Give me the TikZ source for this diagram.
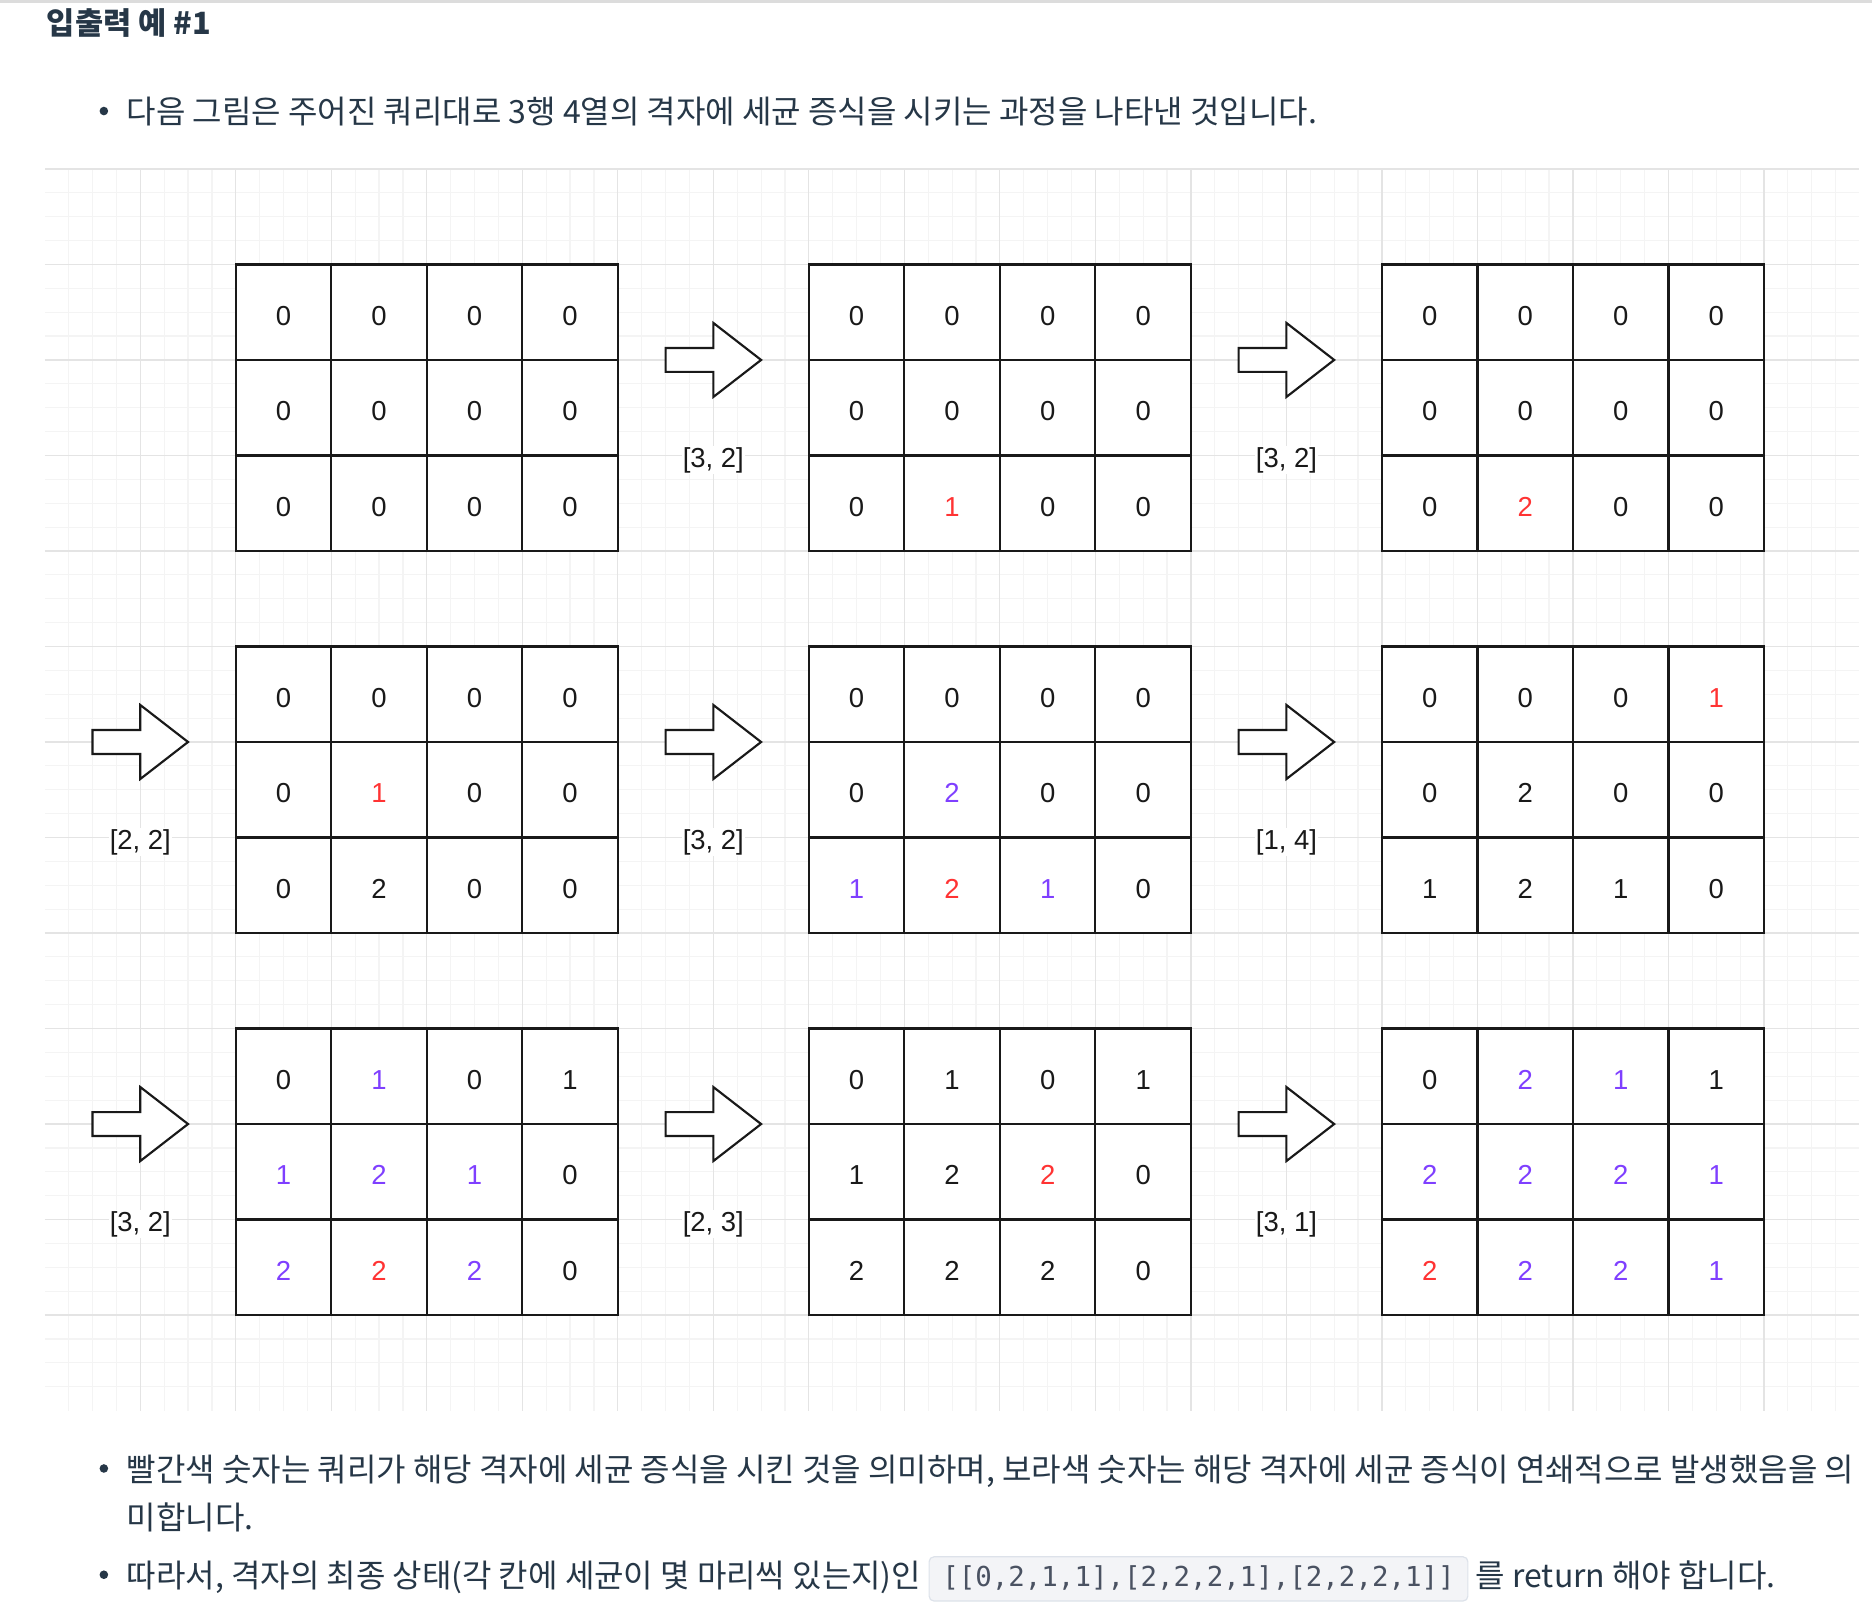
\documentclass[tikz,border=0pt]{standalone}
\usepackage{fontspec}
\setmainfont{Liberation Sans}
\newfontfamily\krfont{Noto Sans CJK KR}
\newfontfamily\codefont{DejaVu Sans Mono}
\usetikzlibrary{positioning}

\definecolor{ink}{HTML}{263747}
\definecolor{qred}{HTML}{FF3333}
\definecolor{qpurple}{HTML}{7F3FFF}
\definecolor{topline}{HTML}{DCDCDC}
\definecolor{gridmajor}{HTML}{E4E4E4}
\definecolor{gridminor}{HTML}{F4F4F4}
\definecolor{codebg}{HTML}{F3F4F7}
\definecolor{codeline}{HTML}{DDE2EA}
\definecolor{codeink}{HTML}{4A5262}
\colorlet{n}{black!90}
\colorlet{r}{qred}
\colorlet{p}{qpurple}

\tikzset{
  minorline/.style={draw=gridminor, line width=1pt},
  majorline/.style={draw=gridmajor, line width=1pt},
  cell/.style={draw=black!90, fill=white, line width=1.8pt, minimum size=80pt,
    inner sep=0pt, outer sep=0pt, text height=21.5pt, text depth=0pt,
    font=\fontsize{23}{23}\selectfont},
  query/.style={fill=white, inner sep=1pt, text=black!90, font=\fontsize{23}{23}\selectfont},
  blockarrow/.style={draw=black!90, fill=white, line width=1.8pt, line join=miter},
  krtext/.style={anchor=base west, inner sep=0pt, text=ink, font=\krfont\fontsize{26.8}{32}\selectfont},
  codebox/.style={anchor=base west, fill=codebg, draw=codeline, line width=1pt, rounded corners=4pt,
    inner xsep=11pt, inner ysep=7.5pt, text height=17pt, text depth=5pt,
    text=codeink, font=\codefont\fontsize{23}{23}\selectfont},
}

\begin{document}
\begin{tikzpicture}[x=1pt,y=-1pt]
	\useasboundingbox (0,0) rectangle (1568,1358.6);
	\fill[topline] (0,0) rectangle (1568,2.2);

	% background grid
	\foreach \gx in {57.5,77.5,...,1537.5} \draw[minorline] (\gx,141.5) -- (\gx,1181.5);
	\foreach \gy in {161.5,181.5,...,1161.5} \draw[minorline] (37.5,\gy) -- (1557.5,\gy);
	\foreach \gx in {117.5,197.5,...,1477.5} \draw[majorline] (\gx,141.5) -- (\gx,1181.5);
	\foreach \gy in {141.5,221.5,...,1101.5} \draw[majorline] (37.5,\gy) -- (1557.5,\gy);

	% texts
	\node[krtext, font=\krfont\bfseries\fontsize{25.7}{30}\selectfont] (title) at (39,28.5) {입출력 예 \#1};
	\fill[ink] (87,93) circle[radius=3.6];
	\node[krtext] (intro) at (106,103.5) {다음 그림은 주어진 쿼리대로 3행 4열의 격자에 세균 증식을 시키는 과정을 나타낸 것입니다.};
	\fill[ink] (87,1230) circle[radius=3.6];
	\node[krtext] (note1) at (106,1240.5) {빨간색 숫자는 쿼리가 해당 격자에 세균 증식을 시킨 것을 의미하며, 보라색 숫자는 해당 격자에 세균 증식이 연쇄적으로 발생했음을 의};
	\node[krtext] (note2) at (106,1281.5) {미합니다.};
	\fill[ink] (87,1319) circle[radius=3.6];
	\node[krtext] (res) at (106,1329.5) {따라서, 격자의 최종 상태(각 칸에 세균이 몇 마리씩 있는지)인};
	\node[codebox] (code) at ([xshift=6pt,yshift=1pt]res.base east) {[[0,2,1,1],[2,2,2,1],[2,2,2,1]]};
	\node[krtext] (ret) at ([xshift=6pt,yshift=-1pt]code.base east) {를 return 해야 합니다.};

	% grids
	\foreach \gname/\gx/\gy/\cells in {
		g1/197.5/221.5/{0/n,0/n,0/n,0/n,0/n,0/n,0/n,0/n,0/n,0/n,0/n,0/n},
		g2/677.5/221.5/{0/n,0/n,0/n,0/n,0/n,0/n,0/n,0/n,0/n,1/r,0/n,0/n},
		g3/1157.5/221.5/{0/n,0/n,0/n,0/n,0/n,0/n,0/n,0/n,0/n,2/r,0/n,0/n},
		g4/197.5/541.5/{0/n,0/n,0/n,0/n,0/n,1/r,0/n,0/n,0/n,2/n,0/n,0/n},
		g5/677.5/541.5/{0/n,0/n,0/n,0/n,0/n,2/p,0/n,0/n,1/p,2/r,1/p,0/n},
		g6/1157.5/541.5/{0/n,0/n,0/n,1/r,0/n,2/n,0/n,0/n,1/n,2/n,1/n,0/n},
		g7/197.5/861.5/{0/n,1/p,0/n,1/n,1/p,2/p,1/p,0/n,2/p,2/r,2/p,0/n},
		g8/677.5/861.5/{0/n,1/n,0/n,1/n,1/n,2/n,2/r,0/n,2/n,2/n,2/n,0/n},
		g9/1157.5/861.5/{0/n,2/p,1/p,1/n,2/p,2/p,2/p,1/p,2/r,2/p,2/p,1/p}}
	{
		\foreach \v/\clr [count=\i from 0] in \cells {
			\pgfmathtruncatemacro{\col}{mod(\i,4)}
			\pgfmathtruncatemacro{\row}{floor(\i/4)}
			\node[cell, text=\clr] (\gname-\row\col) at ({\gx+40+80*\col},{\gy+40+80*\row}) {\v};
		}
	}

	% arrows and queries
	\foreach \ax/\ay/\q [count=\k] in {557.5/301.5/{[3, 2]}, 1037.5/301.5/{[3, 2]},
		77.5/621.5/{[2, 2]}, 557.5/621.5/{[3, 2]}, 1037.5/621.5/{[1, 4]},
		77.5/941.5/{[3, 2]}, 557.5/941.5/{[2, 3]}, 1037.5/941.5/{[3, 1]}}
	{
		\coordinate (arr\k) at (\ax,\ay);
		\draw[blockarrow] (arr\k) ++(0,-10) -- ++(40,0) -- ++(0,-21) -- ++(40,31)
			-- ++(-40,31) -- ++(0,-21) -- ++(-40,0) -- cycle;
		\node[query] (q\k) at ({\ax+40},{\ay+84}) {\q};
	}

\end{tikzpicture}
\end{document}
